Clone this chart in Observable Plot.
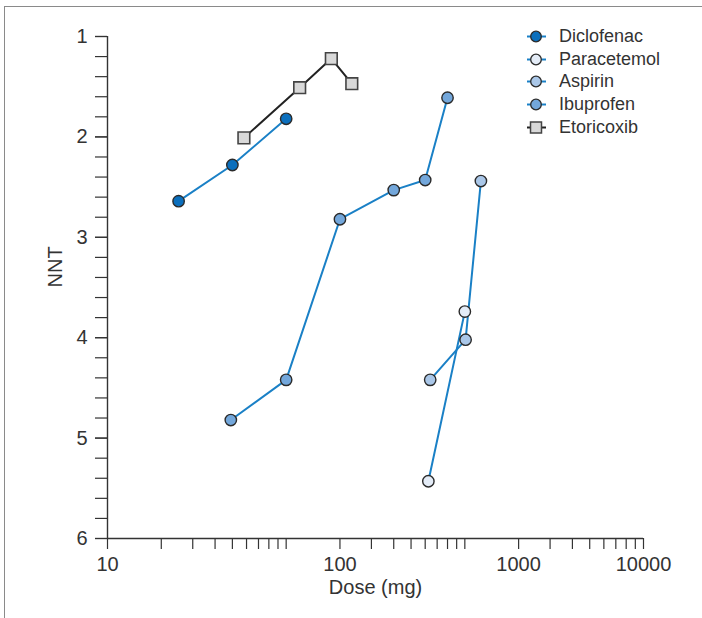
<!DOCTYPE html>
<html>
<head>
<meta charset="utf-8">
<script src="https://cdn.jsdelivr.net/npm/d3@7"></script>
<script src="https://cdn.jsdelivr.net/npm/@observablehq/plot@0.6"></script>
<style>
  html, body { margin: 0; padding: 0; background: #fff; }
  #wrap { position: relative; width: 702px; height: 618px; overflow: hidden; font-family: "Liberation Sans", Arial, sans-serif; }
  #frame { position: absolute; left: 4px; top: 6px; width: 720px; height: 640px; border-left: 1.5px solid #8a8a8a; border-top: 1.5px solid #8a8a8a; }
  #chart { position: absolute; left: 0; top: 0; }
  #legend { position: absolute; left: 526px; top: 25px; font-size: 18px; color: #333; }
  #legend .row { display: flex; align-items: center; height: 22.8px; }
  #legend svg { margin-right: 11px; }
</style>
</head>
<body>
<div id="wrap">
  <div id="frame"></div>
  <div id="chart"></div>
  <div id="legend"></div>
</div>
<script>
// ---- data ----
const drugs = ["Diclofenac", "Paracetemol", "Aspirin", "Ibuprofen", "Etoricoxib"];

const diclofenacDose = [25, 50, 100];
const diclofenacNNT  = [2.64, 2.28, 1.82];

const paracetemolDose = [625, 1000];
const paracetemolNNT  = [5.43, 3.74];

const aspirinDose = [640, 1010, 1230];
const aspirinNNT  = [4.42, 4.02, 2.44];

const ibuprofenDose = [49, 100, 200, 400, 600, 800];
const ibuprofenNNT  = [4.82, 4.42, 2.82, 2.53, 2.43, 1.61];

const etoricoxibDose = [58, 119, 179, 233];
const etoricoxibNNT  = [2.01, 1.51, 1.22, 1.47];

// tick labels (as printed in the reference, with their printed positions)
const xTickLabels   = ["10", "100", "1000", "10000"];
const xTickLabelPos = [10, 200, 2000, 10000];
const yTickLabels   = [1, 2, 3, 4, 5, 6];

// ---- styling ----
const fills = {
  Diclofenac: "#0b6fbd",
  Paracetemol: "#e4ecf7",
  Aspirin: "#aac7e8",
  Ibuprofen: "#73a7db",
  Etoricoxib: "#d9d9d9"
};
const blueLine = "#1a80c6";
const lineColor = d => (d === "Etoricoxib" ? "#222222" : blueLine);

const series = {
  Diclofenac: [diclofenacDose, diclofenacNNT],
  Paracetemol: [paracetemolDose, paracetemolNNT],
  Aspirin: [aspirinDose, aspirinNNT],
  Ibuprofen: [ibuprofenDose, ibuprofenNNT],
  Etoricoxib: [etoricoxibDose, etoricoxibNNT]
};
const rows = drugs.flatMap(drug => series[drug][0].map((dose, i) => ({drug, dose, nnt: series[drug][1][i]})));

// minor tick positions
const xMinor = [];
for (let e = 1; e <= 3; e++) for (let m = 1; m <= 9; m++) xMinor.push(m * 10 ** e);
xMinor.push(10000);
const yMinor = d3.range(0, 26).map(i => 1 + i * 0.2);
const xLabelMap = new Map(xTickLabelPos.map((v, i) => [v, xTickLabels[i]]));

const circles = rows.filter(d => d.drug !== "Etoricoxib");
const squares = rows.filter(d => d.drug === "Etoricoxib");

const chart = Plot.plot({
  width: 702,
  height: 618,
  marginLeft: 107,
  marginRight: 59,
  marginTop: 36,
  marginBottom: 80,
  style: {fontFamily: "'Liberation Sans', Arial, sans-serif", color: "#333", background: "transparent"},
  x: {type: "log", domain: [10, 10000]},
  y: {domain: [1, 6], reverse: true},
  marks: [
    Plot.axisY(yMinor, {tickSize: 12, tickFormat: () => "", stroke: "#333", strokeWidth: 1.2, label: null}),
    Plot.axisY(yTickLabels, {tickSize: 12, tickPadding: 8, fontSize: 20, fill: "#333", stroke: "#333", strokeWidth: 1.2, tickFormat: d => String(d), label: null}),
    Plot.axisX(xMinor, {tickSize: 11, tickFormat: () => "", stroke: "#333", strokeWidth: 1.2, label: null}),
    Plot.axisX(xTickLabelPos, {tickSize: 0, tickPadding: 18, fontSize: 20, fill: "#333", tickFormat: d => xLabelMap.get(d), label: null}),
    Plot.ruleX([10], {stroke: "#333", strokeWidth: 1.4}),
    Plot.ruleY([6], {stroke: "#333", strokeWidth: 1.4}),
    Plot.text(["NNT"], {frameAnchor: "left", dx: -52, rotate: -90, fontSize: 20, fill: "#333"}),
    Plot.text(["Dose (mg)"], {frameAnchor: "bottom", dy: 55, fontSize: 20, fill: "#333"}),
    Plot.line(rows, {x: "dose", y: "nnt", z: "drug", stroke: d => lineColor(d.drug), strokeWidth: 2}),
    Plot.dot(circles, {x: "dose", y: "nnt", r: 5.7, fill: d => fills[d.drug], stroke: "#2a2a2a", strokeWidth: 1.4}),
    Plot.dot(squares, {x: "dose", y: "nnt", r: 6.6, symbol: "square", fill: d => fills[d.drug], stroke: "#444", strokeWidth: 1.6})
  ]
});
document.getElementById("chart").appendChild(chart);

// legend
const legend = document.getElementById("legend");
for (const drug of drugs) {
  const row = document.createElement("div");
  row.className = "row";
  const isSq = drug === "Etoricoxib";
  const marker = isSq
    ? `<rect x="4.5" y="5" width="11" height="11" fill="${fills[drug]}" stroke="#444" stroke-width="1.5"/>`
    : `<circle cx="10" cy="10.5" r="5.3" fill="${fills[drug]}" stroke="#2a2a2a" stroke-width="1.3"/>`;
  row.innerHTML = `<svg width="22" height="21" viewBox="0 0 22 21"><line x1="1" x2="20" y1="10.5" y2="10.5" stroke="${lineColor(drug)}" stroke-width="2"/>${marker}</svg><span>${drug}</span>`;
  legend.appendChild(row);
}
</script>
</body>
</html>
